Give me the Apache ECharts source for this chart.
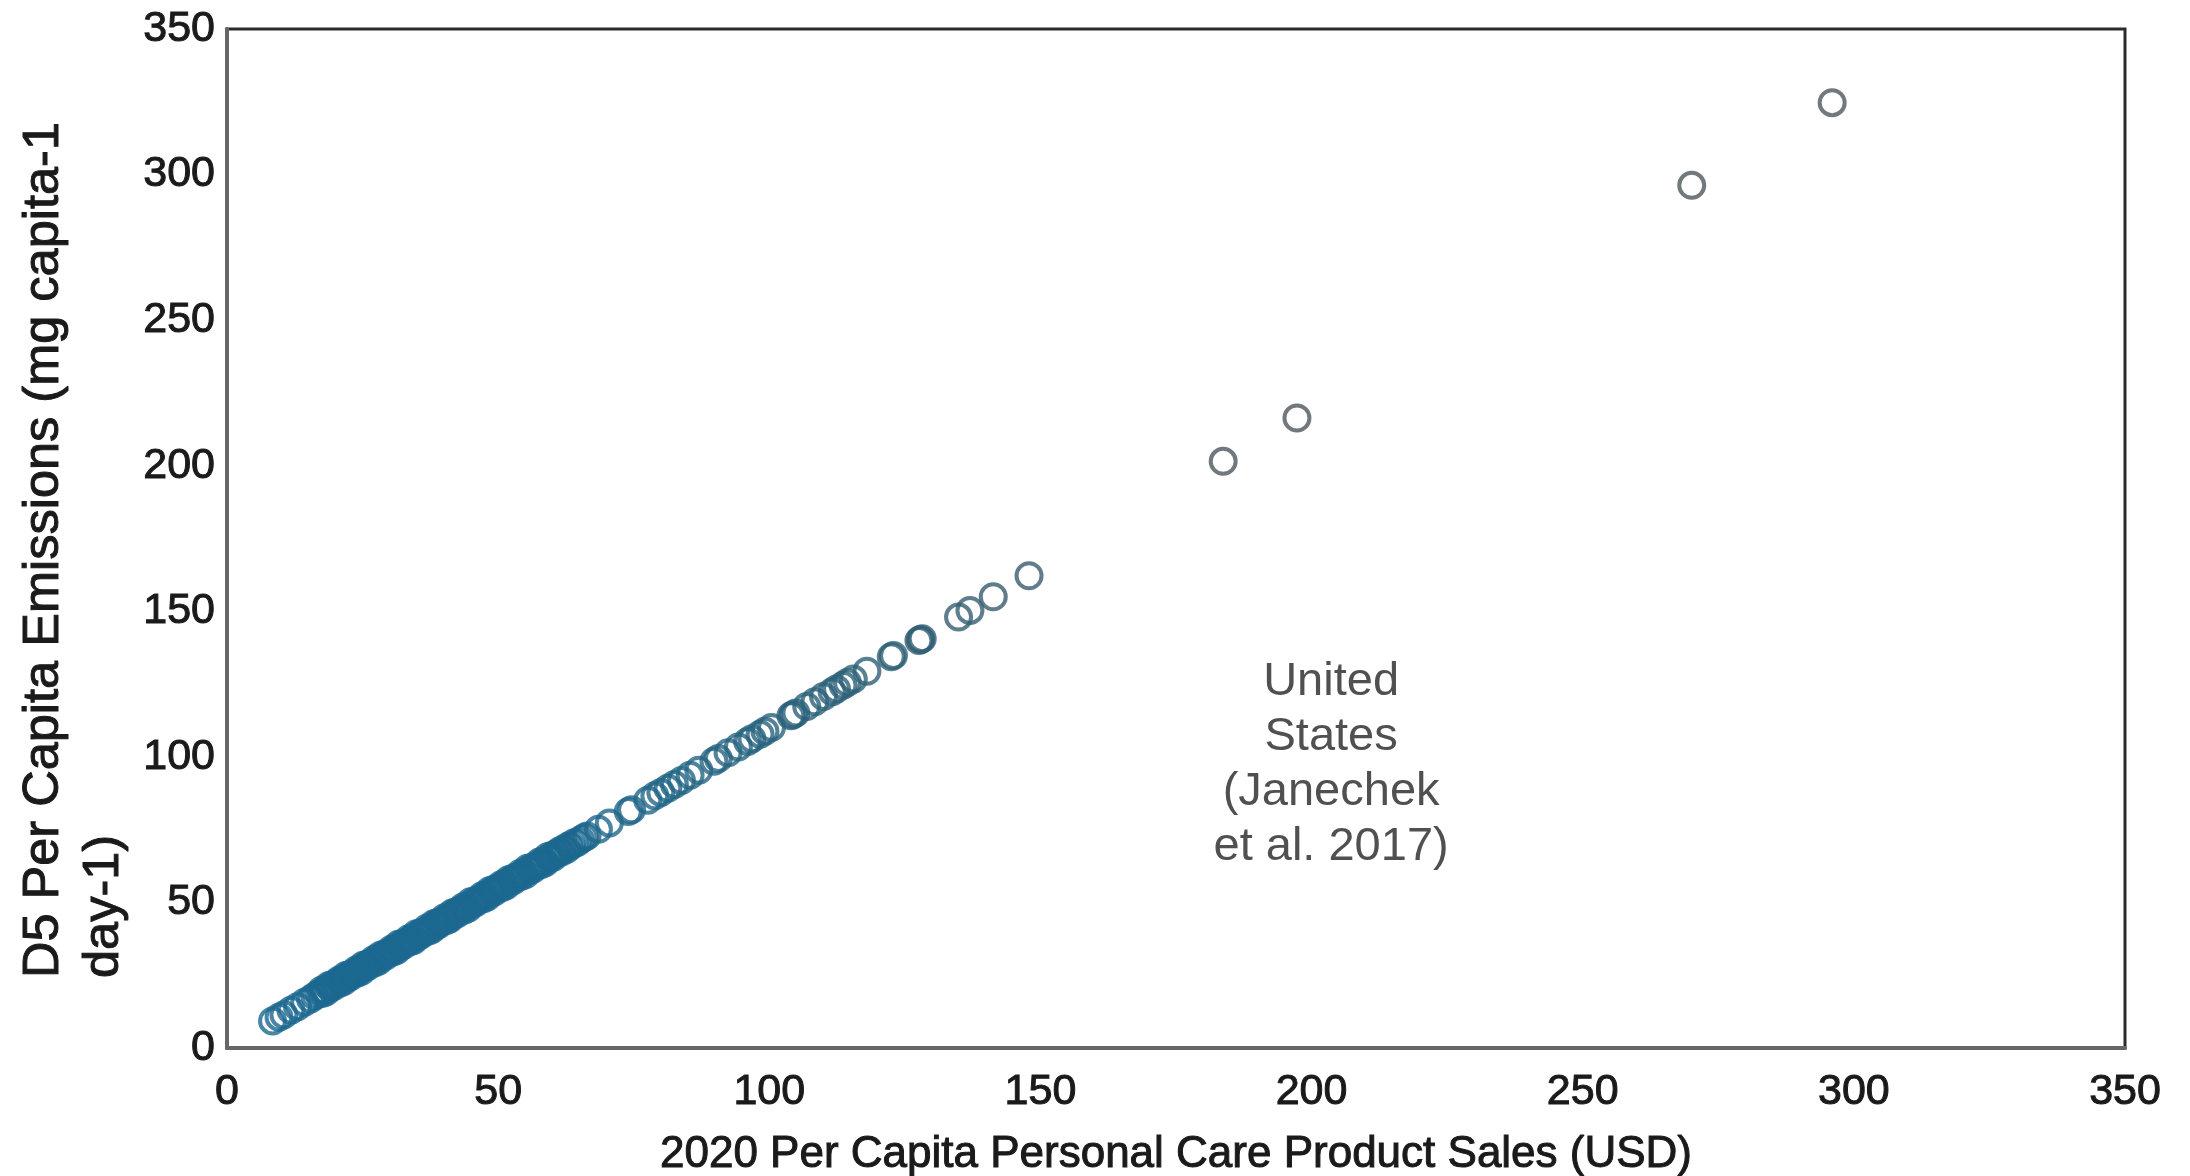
<!DOCTYPE html>
<html>
<head>
<meta charset="utf-8">
<script src="https://cdn.jsdelivr.net/npm/echarts@6/dist/echarts.min.js"></script>
<style>
  html, body { margin: 0; padding: 0; background: #ffffff; }
  #chart { width: 2190px; height: 1176px; }
</style>
</head>
<body>
<div id="chart"></div>
<script>
// 2020 per capita personal care product sales (USD), one value per region
const salesUSD = [
  8.4, 9.6, 10.5, 11.8, 13.0, 14.3, 15.4, 16.2,
  17.0, 17.4, 17.7, 18.0, 18.3, 18.7, 19.0, 19.3, 19.7, 20.0, 20.2, 20.6, 20.9, 21.2, 21.6, 21.9,
  22.1, 22.5, 22.8, 23.2, 23.5, 23.8, 24.1, 24.4, 24.8, 25.1, 25.3, 25.7, 26.0, 26.4, 26.7, 27.0,
  27.3, 27.7, 28.0, 28.3, 28.6, 29.0, 29.3, 29.6, 29.9, 30.3, 30.6, 30.9, 31.3, 31.6, 31.9, 32.2,
  32.6, 32.9, 33.2, 33.5, 33.9, 34.2, 34.5, 34.9, 35.2, 35.5, 35.8, 36.2, 36.5, 36.8, 37.2, 37.5,
  37.8, 38.1, 38.5, 38.8, 39.1, 39.5, 39.8, 40.1, 40.5, 40.8, 41.1, 41.5, 41.8, 42.1, 42.5, 42.8,
  43.1, 43.5, 43.8, 44.2, 44.5, 44.9, 45.2, 45.6, 45.9, 46.3, 46.6, 47.0, 47.3, 47.7, 48.0, 48.4,
  48.7, 49.1, 49.4, 49.8, 50.1, 50.5, 50.8, 51.2, 51.5, 51.9, 52.2, 52.6, 52.9, 53.3, 53.6, 54.0,
  54.3, 54.7, 55.1, 55.4, 55.8, 56.1, 56.5, 56.9, 57.2, 57.6, 58.0, 58.3, 58.7, 59.1, 59.4, 59.8,
  60.2, 60.6, 60.9, 61.3, 61.7, 62.1, 62.6, 63.0, 63.5, 64.0, 64.6, 65.2, 65.9, 66.4,
  68.5, 70.5, 74.0, 74.6, 77.6, 78.9, 80.0, 81.3, 82.5, 83.8, 85.4, 87.0, 89.8, 90.6, 92.4, 94.3,
  96.0, 96.8, 98.3, 99.2, 100.4, 104.0, 104.4, 104.9, 106.9, 108.4, 110.0, 111.6, 112.4, 113.6, 114.4, 115.5,
  118.0, 122.5, 122.9, 127.6, 127.9, 128.2, 134.9, 137.0, 141.3, 147.9,
  183.7, 197.3, 270.1, 296.0
];

// D5 per capita emissions (mg capita-1 day-1), same order as salesUSD
const emissionsMg = [
  9.3, 10.6, 11.4, 13.0, 14.2, 15.7, 16.8, 17.9,
  18.6, 19.8, 18.8, 20.0, 19.3, 21.4, 20.6, 21.7, 21.1, 22.0, 22.2, 23.3, 22.3, 23.6, 22.9, 24.9,
  24.0, 25.2, 24.5, 25.6, 25.8, 26.8, 25.8, 27.1, 26.4, 28.4, 27.6, 28.7, 28.0, 29.1, 29.3, 30.3,
  29.3, 30.7, 29.9, 31.9, 31.2, 32.3, 31.6, 32.6, 32.8, 33.9, 33.0, 34.2, 33.5, 35.6, 34.8, 35.8,
  35.3, 36.2, 36.4, 37.5, 36.6, 37.8, 37.0, 39.2, 38.4, 39.4, 38.8, 39.8, 40.0, 41.1, 40.2, 41.4,
  40.7, 42.7, 42.0, 43.1, 42.4, 43.4, 43.7, 44.7, 43.8, 45.1, 44.3, 46.4, 45.7, 46.7, 46.1, 47.1,
  47.3, 48.4, 47.4, 48.8, 48.0, 50.2, 49.4, 50.5, 49.9, 50.9, 51.1, 52.3, 51.3, 52.6, 51.9, 54.0,
  53.2, 54.4, 53.7, 54.7, 55.0, 56.1, 55.1, 56.5, 55.7, 57.8, 57.1, 58.2, 57.5, 58.6, 58.8, 59.9,
  59.0, 60.3, 59.6, 61.7, 61.0, 62.0, 61.5, 62.5, 62.7, 63.9, 63.0, 64.3, 63.6, 65.7, 65.0, 66.1,
  65.5, 66.6, 66.8, 67.7, 67.3, 68.4, 68.2, 69.5, 69.5, 70.5, 70.6, 71.5, 72.3, 72.8,
  75.1, 77.3, 81.2, 81.8, 85.1, 86.6, 87.8, 89.2, 90.5, 91.9, 93.7, 95.4, 98.5, 99.4, 101.4, 103.4,
  105.3, 106.2, 107.8, 108.8, 110.1, 114.1, 114.5, 115.1, 117.3, 118.9, 120.7, 122.4, 123.3, 124.6, 125.5, 126.7,
  129.4, 134.4, 134.8, 140.0, 140.3, 140.6, 148.0, 150.3, 155.0, 162.2,
  201.5, 216.4, 296.3, 324.7
];

// Axis ticks shared by both axes
const axisTicks = [0, 50, 100, 150, 200, 250, 300, 350];

const annotationLines = ['United', 'States', '(Janechek', 'et al. 2017)'];
const yTitleLines = ['D5 Per Capita Emissions (mg capita-1', 'day-1)'];
const xTitle = '2020 Per Capita Personal Care Product Sales (USD)';

const FONT = '"Liberation Sans", Arial, Helvetica, sans-serif';
const INK = '#1a1a1a';

// Ring colour fades from blue (crowded low end) toward slate grey (sparse high end)
const ringStops = [
  [0,   [27, 104, 144]],
  [60,  [27, 104, 144]],
  [100, [40, 99, 125]],
  [150, [58, 92, 107]],
  [185, [78, 87, 93]],
  [400, [78, 87, 93]]
];
function ringColor(x) {
  for (let i = 1; i < ringStops.length; i++) {
    const [x1, c1] = ringStops[i];
    const [x0, c0] = ringStops[i - 1];
    if (x <= x1) {
      const t = (x - x0) / (x1 - x0);
      const c = c0.map((v, k) => Math.round(v + (c1[k] - v) * t));
      return 'rgb(' + c.join(',') + ')';
    }
  }
  return 'rgb(78,87,93)';
}

const points = salesUSD.map((x, i) => ({
  value: [x, emissionsMg[i]],
  itemStyle: { borderColor: ringColor(x) }
}));

const chart = echarts.init(document.getElementById('chart'), null, { renderer: 'canvas' });

const axisMin = axisTicks[0];
const axisMax = axisTicks[axisTicks.length - 1];
const axisStep = axisTicks[1] - axisTicks[0];

// Slight outline thickens the glyphs a little
const tickStyle = { fontFamily: FONT, fontSize: 43, color: INK, textBorderColor: INK, textBorderWidth: 1 };
const titleStyle = { fontFamily: FONT, fontSize: 44, color: INK, textBorderColor: INK, textBorderWidth: 1 };

chart.setOption({
  animation: false,
  backgroundColor: '#ffffff',
  grid: {
    left: 227, right: 65, top: 29, bottom: 128,
    containLabel: false,
    outerBoundsMode: 'none',
    show: true, borderColor: '#2b2b2b', borderWidth: 3, backgroundColor: 'transparent'
  },
  xAxis: {
    type: 'value',
    min: axisMin, max: axisMax, interval: axisStep,
    axisLine: { show: true, onZero: false, lineStyle: { color: '#666666', width: 4 } },
    axisTick: { show: false },
    splitLine: { show: false },
    axisLabel: Object.assign({ margin: 23 }, tickStyle),
    name: xTitle,
    nameLocation: 'middle',
    nameGap: 85,
    nameTextStyle: titleStyle
  },
  yAxis: {
    type: 'value',
    min: axisMin, max: axisMax, interval: axisStep,
    axisLine: { show: true, onZero: false, lineStyle: { color: '#666666', width: 4 } },
    axisTick: { show: false },
    splitLine: { show: false },
    axisLabel: Object.assign({ margin: 12 }, tickStyle)
  },
  series: [{
    type: 'scatter',
    data: points,
    symbol: 'circle',
    symbolSize: 25,
    itemStyle: { color: 'rgba(0,0,0,0)', borderWidth: 4 },
    emphasis: { disabled: true }
  }]
});

// Annotation placed in data space, plus the left-aligned two-line y-axis title
const notePos = chart.convertToPixel({ gridIndex: 0 }, [203.6, 97.2]);
chart.setOption({
  graphic: [
    {
      type: 'text',
      x: notePos[0], y: notePos[1],
      style: {
        text: annotationLines.join('\n'),
        fontFamily: FONT, fontSize: 47, lineHeight: 55,
        fill: '#505050', align: 'center', verticalAlign: 'middle'
      }
    },
    {
      type: 'text',
      x: 14, y: 978,
      rotation: Math.PI / 2,
      style: {
        text: yTitleLines.join('\n'),
        fontFamily: FONT, fontSize: 50.5, lineHeight: 60,
        fill: INK, stroke: INK, lineWidth: 1,
        align: 'left', verticalAlign: 'top'
      }
    }
  ]
});
</script>
</body>
</html>
